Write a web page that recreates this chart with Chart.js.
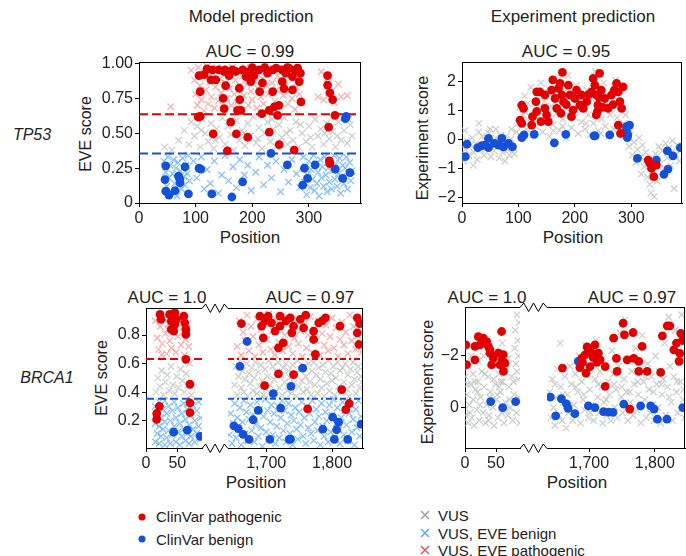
<!DOCTYPE html>
<html>
<head>
<meta charset="utf-8">
<script src="https://cdn.jsdelivr.net/npm/chart.js@4.4.1/dist/chart.umd.min.js"></script>
<style>
  body { margin: 0; background: #fff; }
  #fig { position: relative; width: 686px; height: 556px; overflow: hidden; font-family: 'Liberation Sans', Arial, sans-serif; color: #222; }
  .t { position: absolute; transform: translate(-50%, -50%); white-space: nowrap; font-size: 17px; }
  .yt { position: absolute; transform: translate(-50%, -50%) rotate(-90deg); white-space: nowrap; font-size: 16px; }
  .gene { position: absolute; transform: translate(-50%, -50%); font-style: italic; font-size: 16px; }
  .lg { position: absolute; transform: translateY(-50%); white-space: nowrap; font-size: 15px; }
  .dot { position: absolute; width: 7px; height: 7px; border-radius: 50%; transform: translate(-50%, -50%); }
  .x { position: absolute; transform: translate(-50%, -50%); }
</style>
</head>
<body>
<div id="fig">
  <div class="t" style="left:251px;top:17px">Model prediction</div>
  <div class="t" style="left:573px;top:17px">Experiment prediction</div>

  <div class="t" style="left:250px;top:52px">AUC = 0.99</div>
  <div class="t" style="left:566px;top:52px">AUC = 0.95</div>
  <div class="gene" style="left:32px;top:135px">TP53</div>
  <div class="yt" style="left:86px;top:134px">EVE score</div>
  <div class="yt" style="left:423px;top:138px">Experiment score</div>
  <div class="t" style="left:250px;top:238px">Position</div>
  <div class="t" style="left:573px;top:238px">Position</div>

  <div class="t" style="left:167px;top:298px">AUC = 1.0</div>
  <div class="t" style="left:310px;top:298px">AUC = 0.97</div>
  <div class="t" style="left:487px;top:298px">AUC = 1.0</div>
  <div class="t" style="left:632px;top:298px">AUC = 0.97</div>
  <div class="gene" style="left:47px;top:378px">BRCA1</div>
  <div class="yt" style="left:102px;top:378px">EVE score</div>
  <div class="yt" style="left:428px;top:382px">Experiment score</div>
  <div class="t" style="left:256px;top:483px">Position</div>
  <div class="t" style="left:577px;top:483px">Position</div>

  <span class="dot" style="left:142px;top:517px;background:#e00000"></span>
  <div class="lg" style="left:156px;top:516px">ClinVar pathogenic</div>
  <span class="dot" style="left:142px;top:539px;background:#1550d8"></span>
  <div class="lg" style="left:156px;top:539px">ClinVar benign</div>
  <svg class="x" style="left:425px;top:515px" width="10" height="10"><path d="M1 1L9 9M9 1L1 9" stroke="#a0a0a0" stroke-width="1.6"/></svg>
  <div class="lg" style="left:438px;top:515px">VUS</div>
  <svg class="x" style="left:425px;top:533px" width="10" height="10"><path d="M1 1L9 9M9 1L1 9" stroke="#5aaaf0" stroke-width="1.6"/></svg>
  <div class="lg" style="left:438px;top:533px">VUS, EVE benign</div>
  <svg class="x" style="left:425px;top:550px" width="10" height="10"><path d="M1 1L9 9M9 1L1 9" stroke="#d06464" stroke-width="1.6"/></svg>
  <div class="lg" style="left:438px;top:550px">VUS, EVE pathogenic</div>
</div>

<script>
// ---- tick values / labels ----
const tp53XTicks = [0, 100, 200, 300];
const tp53XLabels = ['0', '100', '200', '300'];
const tp53EveYTicks = [0, 0.25, 0.5, 0.75, 1];
const tp53EveYLabels = ['0', '0.25', '0.50', '0.75', '1.00'];
const tp53ExpYTicks = [-2, -1, 0, 1, 2];
const tp53ExpYLabels = ['\u22122', '\u22121', '0', '1', '2'];
const brca1XTicksN = [0, 50];
const brca1XLabelsN = ['0', '50'];
const brca1XTicksC = [1700, 1800];
const brca1XLabelsC = ['1,700', '1,800'];
const brca1EveYTicks = [0.2, 0.4, 0.6, 0.8];
const brca1EveYLabels = ['0.2', '0.4', '0.6', '0.8'];
const brca1ExpYTicks = [-2, 0];
const brca1ExpYLabels = ['\u22122', '0'];

// EVE class cut-offs [benign, pathogenic]
const tp53EveCutoffs = [0.355, 0.636];
const brca1EveCutoffs = [0.353, 0.632];

// ---- TP53, EVE score ----
const tp53EvePathogenic = [[106,0.913],[108,0.797],[104.5,0.616],[129.7,0.954],[135.6,0.882],[127,0.882],[150,0.942],[148.6,0.749],[150.4,0.676],[152,0.954],[165,0.954],[171,0.942],[177,0.822],[178,0.741],[174,0.664],[180,0.664],[162,0.579],[131,0.495],[172,0.495],[192,0.471],[156,0.374],[183,0.954],[195,0.942],[197.5,0.870],[212,0.954],[213,0.797],[217,0.640],[236,0.954],[236,0.797],[230,0.664],[239,0.688],[247,0.700],[244.7,0.628],[230,0.507],[247.6,0.418],[274,0.379],[253,0.954],[265,0.966],[277,0.954],[283,0.870],[286,0.725],[271,0.906],[253,0.870],[333,0.913],[333,0.845],[337,0.789],[342,0.741],[346,0.628],[335,0.543],[336,0.302],[337,0.283],[141,0.954],[159,0.913],[189,0.906],[203,0.913],[227,0.93],[242,0.966],[259,0.93],[280,0.966],[153,0.84],[218,0.86],[256,0.82],[271,0.81],[120,0.96],[115,0.92],[200,0.97],[222,0.97],[262,0.97],[285,0.93],[108,0.62]];
const tp53EveBenign = [[47.2,0.266],[46,0.168],[47.2,0.085],[53,0.056],[63.7,0.089],[69.6,0.193],[72.5,0.145],[81.4,0.258],[87.3,0.065],[106,0.249],[109,0.242],[128.5,0.065],[164,0.043],[183,0.152],[233,0.355],[262,0.273],[292,0.249],[297.6,0.176],[289,0.128],[311,0.273],[346.6,0.242],[359.6,0.176],[372.5,0.217],[364.2,0.604],[366,0.62],[72,0.17]];
const tp53EveVus = [[45,0.40],[58,0.38],[70,0.45],[80,0.52],[88,0.42],[92,0.58],[98,0.48],[103,0.55],[108,0.40],[112,0.60],[117,0.50],[122,0.44],[127,0.57],[132,0.39],[137,0.53],[142,0.47],[147,0.61],[152,0.42],[157,0.55],[162,0.49],[167,0.38],[172,0.59],[177,0.45],[182,0.52],[187,0.41],[192,0.57],[197,0.48],[202,0.62],[207,0.43],[212,0.54],[217,0.39],[222,0.50],[227,0.58],[232,0.44],[237,0.53],[242,0.40],[247,0.56],[252,0.47],[257,0.61],[262,0.42],[267,0.52],[272,0.45],[277,0.58],[282,0.40],[288,0.50],[295,0.44],[300,0.55],[306,0.40],[311,0.60],[316,0.48],[321,0.53],[326,0.42],[331,0.57],[336,0.46],[342,0.51],[347,0.40],[352,0.58],[357,0.45],[362,0.52],[368,0.43],[373,0.56],[376,0.48],[110,0.52],[135,0.45],[160,0.58],[185,0.50],[210,0.46],[235,0.60],[260,0.50],[285,0.56],[303,0.47],[328,0.50],[350,0.48],[370,0.60]];
const tp53EveVusBenign = [[44,0.30],[47,0.22],[49,0.12],[51,0.33],[53,0.18],[55,0.27],[57,0.08],[59,0.21],[61,0.31],[63,0.14],[65,0.25],[67,0.05],[69,0.29],[71,0.17],[73,0.23],[75,0.10],[77,0.32],[79,0.19],[81,0.13],[83,0.27],[85,0.21],[87,0.34],[89,0.16],[96,0.30],[102,0.18],[110,0.33],[115,0.10],[120,0.24],[126,0.14],[133,0.30],[140,0.07],[146,0.20],[152,0.34],[158,0.16],[166,0.26],[172,0.11],[178,0.31],[186,0.20],[192,0.27],[198,0.09],[206,0.22],[212,0.33],[220,0.13],[227,0.27],[234,0.18],[242,0.30],[250,0.08],[256,0.24],[264,0.15],[270,0.31],[278,0.21],[284,0.11],[290,0.33],[292,0.15],[294,0.26],[296,0.06],[298,0.20],[300,0.30],[302,0.11],[304,0.24],[306,0.17],[308,0.34],[310,0.09],[312,0.28],[314,0.14],[316,0.22],[318,0.05],[320,0.31],[322,0.18],[324,0.26],[326,0.12],[328,0.33],[330,0.20],[332,0.08],[334,0.25],[336,0.15],[338,0.30],[340,0.10],[342,0.23],[344,0.34],[346,0.17],[348,0.28],[350,0.12],[352,0.21],[354,0.32],[356,0.07],[358,0.19],[360,0.27],[362,0.14],[364,0.25],[366,0.33],[368,0.10],[370,0.21],[372,0.29],[374,0.16],[376,0.23]];
const tp53EveVusPathogenic = [[92,0.95],[98,0.88],[100,0.78],[103,0.70],[105,0.97],[108,0.84],[110,0.74],[113,0.92],[115,0.66],[118,0.81],[120,0.98],[122,0.71],[125,0.87],[128,0.76],[130,0.93],[133,0.68],[135,0.83],[138,0.97],[140,0.73],[143,0.89],[145,0.79],[148,0.95],[150,0.67],[153,0.86],[155,0.75],[158,0.92],[160,0.82],[163,0.70],[165,0.97],[168,0.78],[170,0.88],[173,0.72],[175,0.94],[178,0.84],[180,0.66],[183,0.91],[185,0.77],[188,0.97],[190,0.85],[193,0.70],[195,0.93],[198,0.80],[200,0.74],[203,0.96],[205,0.87],[208,0.68],[210,0.82],[213,0.94],[215,0.76],[218,0.89],[220,0.71],[223,0.98],[225,0.84],[228,0.78],[230,0.92],[233,0.67],[235,0.86],[238,0.96],[240,0.73],[243,0.81],[245,0.91],[248,0.69],[250,0.87],[253,0.97],[255,0.77],[258,0.84],[260,0.93],[263,0.71],[265,0.80],[268,0.95],[270,0.75],[273,0.89],[275,0.67],[278,0.83],[280,0.97],[283,0.78],[285,0.90],[288,0.72],[56,0.69],[316,0.76],[322,0.94],[326,0.74],[333,0.86],[340,0.80],[345,0.72],[357,0.76],[368,0.77],[352,0.85]];

// ---- TP53, experiment score ----
const tp53ExpPathogenic = [[106,1.18],[109,1.07],[103,0.66],[106,0.55],[123.6,0.49],[125,0.78],[132.5,0.96],[131,1.30],[132.5,1.64],[138,1.64],[140,0.61],[147,1.53],[147,1.07],[150,0.84],[153,0.61],[159,1.70],[161,2.05],[165,1.41],[168,1.07],[174,1.93],[178,2.31],[177,1.53],[175.5,0.90],[180,1.30],[188.5,1.87],[191,1.53],[194,0.78],[197,1.01],[203,1.70],[212,1.53],[215,1.07],[221,1.30],[230,1.64],[232.5,2.10],[235.5,1.87],[238,1.53],[241,1.18],[238,0.84],[244,2.28],[247,1.70],[253,1.41],[259,1.07],[265,1.53],[274,1.93],[277,1.64],[280,1.30],[285.6,1.81],[283,1.07],[277,0.49],[281,0.20],[333,-0.83],[336,-1.00],[340,-1.29],[344.5,-0.89],[330,-0.72],[171,1.76],[200,1.41],[209,1.18],[243,1.45],[250,1.10],[268,1.20],[185,1.20],[225,1.55],[240,0.95],[270,1.70]];
const tp53ExpBenign = [[8.8,-0.17],[5.8,-0.60],[28,-0.29],[35,-0.22],[47,0.03],[47,-0.29],[57.6,-0.14],[70.6,0.03],[73.6,-0.26],[82.5,-0.14],[89.5,-0.26],[106,0.06],[110,0.15],[128,0.17],[163.7,-0.12],[184,0.17],[234,0.12],[262,0.15],[291.5,0.32],[297,0.49],[294,0.15],[293,0.06],[311,-0.66],[344.5,-0.72],[364,-0.40],[374,-0.57],[365,-1.03],[358,-1.21],[387,-0.29],[291.5,0.44],[236,0.12],[41,-0.2],[65,-0.2]];
const tp53ExpVus = [[3,-0.75],[6,-0.35],[9,-0.05],[12,-0.55],[15,-0.20],[18,0.05],[21,-0.45],[24,-0.15],[27,-0.70],[30,0.25],[33,-0.35],[36,0.10],[39,-0.55],[42,-0.05],[45,-0.30],[48,0.20],[51,-0.60],[54,-0.10],[57,-0.40],[60,0.05],[63,-0.25],[66,-0.65],[69,0.15],[72,-0.45],[75,-0.15],[78,0.10],[81,-0.35],[84,-0.55],[87,0.00],[90,-0.25],[93,-0.50],[5,0.3],[30,0.55],[60,0.35],[88,0.35],[97,0.25],[100,0.55],[103,1.10],[105,0.05],[108,0.85],[111,1.50],[114,0.35],[117,1.25],[120,0.60],[122,1.80],[125,0.15],[128,1.05],[131,0.45],[134,1.60],[137,0.80],[140,1.95],[143,0.25],[146,1.30],[149,0.65],[152,1.75],[155,0.10],[158,1.15],[161,0.50],[164,1.45],[167,0.90],[170,2.05],[173,0.30],[176,1.20],[179,0.70],[182,1.65],[185,0.05],[188,2.20],[191,0.95],[194,0.40],[197,1.55],[200,0.75],[203,1.85],[206,0.20],[209,1.35],[212,0.60],[215,1.10],[218,0.35],[221,1.70],[224,0.85],[227,0.15],[230,1.40],[233,0.55],[236,2.35],[239,0.95],[242,0.30],[245,1.60],[248,0.70],[251,1.95],[254,0.45],[257,1.25],[260,0.10],[263,0.85],[266,1.50],[269,0.35],[272,2.05],[275,0.75],[278,1.30],[281,0.20],[284,1.05],[287,0.55],[290,0.85],[293,0.15],[296,-0.25],[299,0.30],[302,-0.55],[305,-0.10],[308,-0.80],[311,-0.35],[314,0.05],[317,-0.60],[320,-0.20],[323,-0.95],[326,-0.45],[329,-1.30],[332,-0.70],[335,-1.85],[338,-1.10],[341,-1.98],[343,-0.50],[346,-1.45],[349,-0.25],[352,-0.85],[355,-0.40],[358,-1.10],[361,-0.15],[364,-0.65],[367,-0.30],[370,-0.90],[373,-0.05],[376,-1.70],[379,-0.55],[382,-0.20],[385,-0.75],[388,-0.35],[333,-1.55],[112,0.95],[138,1.10],[162,0.30],[178,0.45],[205,1.05],[220,0.55],[246,0.20],[262,1.20],[286,0.35],[20,-0.9],[50,0.35],[76,-0.75],[318,-1.2],[372,-0.45]];

// ---- BRCA1, EVE score (N-terminal 0-89 and C-terminal 1642-1847) ----
const brca1EvePathogenic = [[22.5,0.945],[24,0.91],[37.7,0.945],[43,0.933],[46,0.957],[40.4,0.898],[46,0.875],[40.4,0.84],[44.3,0.828],[48.6,0.91],[60.5,0.933],[62,0.886],[63.8,0.84],[63.8,0.805],[63.8,0.63],[70.3,0.455],[70.3,0.325],[70.3,0.256],[21.4,0.30],[17.1,0.25],[17.1,0.209],[1662.4,0.881],[1690.4,0.933],[1693,0.863],[1695.6,0.781],[1703,0.933],[1708,0.886],[1713.5,0.828],[1721,0.933],[1721,0.863],[1726,0.746],[1718.6,0.711],[1736.5,0.921],[1741.6,0.863],[1739,0.816],[1751.8,0.91],[1756.8,0.851],[1772,0.828],[1772,0.769],[1774.7,0.664],[1779.8,0.886],[1790,0.921],[1812,0.863],[1838.3,0.921],[1838.3,0.816],[1840.8,0.734],[1842,0.88],[1718.6,0.528],[1741.6,0.523],[1697.6,0.446],[1763,0.282],[1814.7,0.418],[1820.8,0.277],[1826,0.32],[1698,0.90],[1730,0.90],[1760,0.94],[1785,0.90]];
const brca1EveBenign = [[44.2,0.119],[66,0.133],[86.6,0.09],[1671,0.755],[1660,0.58],[1755.4,0.568],[1737.6,0.44],[1710.7,0.389],[1687.9,0.272],[1680.3,0.206],[1722,0.288],[1651,0.163],[1657.6,0.144],[1665,0.103],[1674,0.068],[1705.6,0.068],[1735,0.068],[1737,0.07],[1786,0.14],[1801,0.224],[1810,0.189],[1807,0.136],[1803.5,0.068],[1823.8,0.068],[1844,0.175]];
const brca1EveVus = [[16,0.40],[19,0.50],[22,0.44],[25,0.55],[28,0.38],[31,0.47],[34,0.52],[37,0.41],[40,0.58],[43,0.45],[46,0.39],[49,0.51],[52,0.43],[55,0.56],[58,0.48],[61,0.40],[64,0.53],[67,0.45],[70,0.60],[72,0.38],[1652,0.45],[1654,0.58],[1656,0.38],[1658,0.51],[1660,0.62],[1662,0.43],[1664,0.55],[1666,0.40],[1668,0.49],[1670,0.60],[1672,0.37],[1674,0.53],[1676,0.46],[1678,0.57],[1680,0.41],[1682,0.50],[1684,0.61],[1686,0.39],[1688,0.54],[1690,0.44],[1692,0.59],[1694,0.48],[1696,0.38],[1698,0.56],[1700,0.42],[1702,0.51],[1704,0.62],[1706,0.45],[1708,0.37],[1710,0.58],[1712,0.49],[1714,0.40],[1716,0.54],[1718,0.61],[1720,0.43],[1722,0.52],[1724,0.38],[1726,0.57],[1728,0.47],[1730,0.60],[1732,0.41],[1734,0.55],[1736,0.50],[1738,0.39],[1740,0.59],[1742,0.46],[1744,0.53],[1746,0.37],[1748,0.62],[1750,0.44],[1752,0.56],[1754,0.48],[1756,0.40],[1758,0.58],[1760,0.51],[1762,0.42],[1764,0.60],[1766,0.47],[1768,0.38],[1770,0.55],[1772,0.61],[1774,0.45],[1776,0.52],[1778,0.39],[1780,0.57],[1782,0.49],[1784,0.43],[1786,0.59],[1788,0.37],[1790,0.54],[1792,0.46],[1794,0.62],[1796,0.41],[1798,0.53],[1800,0.48],[1802,0.58],[1804,0.38],[1806,0.50],[1808,0.61],[1810,0.44],[1812,0.55],[1814,0.40],[1816,0.57],[1818,0.47],[1820,0.60],[1822,0.42],[1824,0.52],[1826,0.37],[1828,0.56],[1830,0.45],[1832,0.61],[1834,0.49],[1836,0.39],[1838,0.54],[1840,0.58],[1842,0.43],[1844,0.51],[1845,0.47]];
const brca1EveVusBenign = [[15,0.05],[15,0.18],[15,0.30],[18,0.11],[18,0.25],[21,0.04],[21,0.16],[21,0.33],[24,0.09],[24,0.22],[27,0.14],[27,0.28],[30,0.03],[30,0.19],[30,0.34],[33,0.08],[33,0.25],[36,0.13],[36,0.30],[39,0.04],[39,0.20],[42,0.10],[42,0.27],[45,0.16],[45,0.33],[48,0.05],[48,0.22],[51,0.12],[51,0.29],[54,0.03],[54,0.18],[57,0.09],[57,0.25],[60,0.14],[60,0.32],[63,0.06],[63,0.21],[66,0.11],[66,0.28],[69,0.04],[69,0.17],[72,0.09],[72,0.24],[75,0.14],[75,0.31],[78,0.05],[78,0.20],[81,0.11],[81,0.27],[84,0.16],[84,0.33],[87,0.07],[87,0.22],[1644,0.10],[1646,0.25],[1648,0.04],[1650,0.18],[1652,0.32],[1654,0.08],[1656,0.22],[1658,0.14],[1660,0.29],[1662,0.03],[1664,0.19],[1666,0.34],[1668,0.11],[1670,0.26],[1672,0.06],[1674,0.21],[1676,0.31],[1678,0.13],[1680,0.24],[1682,0.05],[1684,0.17],[1686,0.33],[1688,0.09],[1690,0.28],[1692,0.15],[1694,0.02],[1696,0.23],[1698,0.35],[1700,0.12],[1702,0.27],[1704,0.07],[1706,0.19],[1708,0.31],[1710,0.10],[1712,0.25],[1714,0.04],[1716,0.16],[1718,0.30],[1720,0.08],[1722,0.22],[1724,0.34],[1726,0.13],[1728,0.27],[1730,0.05],[1732,0.18],[1734,0.32],[1736,0.11],[1738,0.24],[1740,0.03],[1742,0.20],[1744,0.29],[1746,0.14],[1748,0.07],[1750,0.26],[1752,0.17],[1754,0.33],[1756,0.09],[1758,0.22],[1760,0.04],[1762,0.30],[1764,0.15],[1766,0.25],[1768,0.11],[1770,0.34],[1772,0.06],[1774,0.19],[1776,0.28],[1778,0.13],[1780,0.23],[1782,0.03],[1784,0.32],[1786,0.16],[1788,0.09],[1790,0.26],[1792,0.20],[1794,0.05],[1796,0.31],[1798,0.12],[1800,0.24],[1802,0.35],[1804,0.08],[1806,0.18],[1808,0.29],[1810,0.14],[1812,0.04],[1814,0.22],[1816,0.33],[1818,0.10],[1820,0.27],[1822,0.17],[1824,0.06],[1826,0.25],[1828,0.31],[1830,0.12],[1832,0.21],[1834,0.03],[1836,0.28],[1838,0.15],[1840,0.34],[1842,0.09],[1844,0.23]];
const brca1EveVusPathogenic = [[15,0.90],[18,0.78],[20,0.70],[23,0.86],[26,0.74],[28,0.92],[31,0.81],[33,0.67],[36,0.88],[38,0.76],[41,0.71],[43,0.94],[46,0.83],[48,0.68],[51,0.79],[53,0.90],[56,0.73],[58,0.85],[61,0.66],[63,0.77],[66,0.88],[68,0.72],[35,0.84],[50,0.93],[25,0.66],[1656,0.72],[1659,0.90],[1662,0.66],[1665,0.82],[1668,0.76],[1671,0.94],[1674,0.69],[1677,0.86],[1680,0.79],[1683,0.65],[1686,0.91],[1689,0.73],[1692,0.84],[1695,0.68],[1698,0.88],[1701,0.77],[1704,0.95],[1707,0.70],[1710,0.83],[1713,0.66],[1716,0.90],[1719,0.75],[1722,0.86],[1725,0.69],[1728,0.80],[1731,0.93],[1734,0.72],[1737,0.85],[1740,0.67],[1743,0.78],[1746,0.91],[1749,0.74],[1752,0.83],[1755,0.65],[1758,0.88],[1761,0.71],[1764,0.80],[1767,0.93],[1770,0.68],[1773,0.84],[1776,0.76],[1779,0.90],[1782,0.66],[1785,0.81],[1788,0.73],[1791,0.87],[1794,0.69],[1797,0.79],[1800,0.92],[1803,0.71],[1806,0.85],[1809,0.65],[1812,0.77],[1815,0.89],[1818,0.73],[1821,0.82],[1824,0.67],[1827,0.94],[1830,0.76],[1833,0.86],[1836,0.70],[1839,0.80],[1842,0.90],[1845,0.68]];

// ---- BRCA1, experiment score ----
const brca1ExpPathogenic = [[1.5,-2.43],[2.7,-1.66],[16,-2.37],[21.5,-2.75],[16,-1.85],[35,-2.56],[37.6,-2.37],[40.3,-2.11],[43,-1.66],[45.7,-1.92],[59,-2.95],[53.8,-2.11],[61.8,-2.05],[56.4,-1.66],[62,-1.40],[64.5,-1.72],[29.6,-2.69],[24.2,-2.43],[60,-1.85],[40,-2.25],[1659.5,-1.53],[1688.7,-1.91],[1693.8,-2.04],[1699,-2.24],[1704,-2.11],[1709,-2.43],[1714.2,-2.11],[1695.4,-1.33],[1701.5,-1.59],[1717,-1.85],[1724.6,-1.59],[1724.6,-0.82],[1737.4,-2.69],[1751.8,-3.27],[1753.8,-2.82],[1767,-2.91],[1741.6,-1.91],[1742.6,-1.40],[1758,-1.85],[1768,-1.91],[1775.6,-1.79],[1780.8,-2.37],[1775.6,-1.40],[1788.5,-1.40],[1809,-1.36],[1811.6,-2.78],[1819,-3.17],[1823,-3.17],[1829,-2.24],[1833,-2.50],[1839.5,-2.88],[1837,-1.79],[1762,0.06],[1690,-1.75],[1706,-1.95],[1712,-1.75],[1697,-2.35],[1686,-1.55],[1838,-2.1],[1842,-2.6]];
const brca1ExpBenign = [[41.4,-0.23],[60.8,0.0],[81.7,-0.23],[1641,-0.40],[1649.2,0.32],[1657.9,-0.34],[1665.6,-0.14],[1668,0.03],[1678.4,0.24],[1683.6,-1.79],[1699,-0.06],[1709,0],[1722,0.16],[1729.7,0.18],[1736.4,0.19],[1752.8,-0.13],[1778.5,-0.06],[1793.8,-0.06],[1799,0.06],[1804,0.45],[1818.5,0.45],[1842.6,0]];
const brca1ExpVus = [[1,-1.2],[1,0.3],[3,-0.5],[5,0.6],[5,-1.6],[7,-0.1],[9,-0.9],[11,0.4],[13,-1.3],[13,-0.3],[15,0.7],[17,-0.7],[19,0.1],[21,-1.8],[21,-1.0],[23,0.5],[25,-0.4],[27,-1.4],[29,0.2],[31,-0.8],[33,0.6],[35,-0.1],[37,-1.2],[39,0.3],[41,-0.6],[43,-1.6],[45,0.0],[47,0.7],[49,-0.9],[51,-0.3],[53,0.4],[55,-1.3],[57,-0.6],[59,0.2],[61,-1.0],[63,0.6],[65,-0.2],[67,-1.5],[69,0.3],[71,-0.8],[73,0.0],[75,-1.2],[77,0.5],[79,-0.5],[80,-2.3],[81,-3.0],[82,-1.7],[83,0.2],[84,-3.6],[85,-2.6],[86,-1.1],[87,-0.4],[87,-3.3],[88,0.6],[10,-2.0],[30,-2.0],[50,-2.2],[60,-2.5],[40,-0.4],[20,-0.6],[55,-0.8],[70,-1.9],[4,-0.9],[8,0.2],[16,-1.0],[24,-0.1],[32,-1.3],[38,0.5],[46,-1.1],[52,-0.5],[58,-1.0],[66,0.1],[72,-0.3],[78,-1.0],[84,-1.4],[86,-2.0],[1640,-0.6],[1642,0.4],[1644,-1.1],[1646,0.0],[1648,0.7],[1650,-0.4],[1652,-1.5],[1654,0.3],[1656,-2.5],[1657,-0.8],[1659,0.5],[1661,-0.2],[1663,-1.2],[1665,0.8],[1667,-0.5],[1669,0.2],[1671,-1.6],[1673,-0.9],[1675,0.5],[1677,-0.1],[1679,-1.3],[1681,0.3],[1683,-0.6],[1685,-2.0],[1687,0.6],[1689,-1.0],[1691,-0.3],[1693,0.1],[1695,-2.4],[1697,-1.4],[1699,0.4],[1701,-0.7],[1703,-0.1],[1705,-1.8],[1707,0.5],[1709,-1.1],[1711,-2.6],[1713,-0.4],[1715,0.2],[1717,-1.4],[1719,-0.8],[1721,0.6],[1723,-0.2],[1725,-1.7],[1727,0.3],[1729,-1.0],[1731,-0.5],[1733,0.5],[1735,-2.2],[1737,-1.3],[1739,0.0],[1741,-0.7],[1743,0.4],[1745,-1.6],[1747,-2.9],[1749,-0.4],[1751,0.2],[1753,-1.1],[1755,-3.4],[1757,-0.6],[1759,0.5],[1761,-1.9],[1763,-0.2],[1765,-1.4],[1767,0.3],[1769,-0.9],[1771,-2.3],[1773,0.1],[1775,-0.5],[1777,-1.5],[1779,0.6],[1781,-2.8],[1783,-1.0],[1785,-0.3],[1787,0.4],[1789,-1.7],[1791,-0.7],[1793,0.2],[1795,-1.2],[1797,-0.1],[1799,0.5],[1801,-2.0],[1803,-0.9],[1805,0.0],[1807,-1.4],[1809,0.6],[1811,-0.5],[1813,-1.1],[1815,-2.5],[1817,0.3],[1819,-0.8],[1821,-3.5],[1823,-1.6],[1825,-0.2],[1827,0.5],[1829,-1.2],[1831,-3.0],[1833,-0.6],[1835,0.2],[1837,-2.2],[1839,-1.0],[1841,-3.6],[1843,-0.3],[1845,0.4],[1845,-1.8],[1648,-0.9],[1660,-0.5],[1670,0.0],[1680,-0.8],[1692,-0.5],[1702,0.2],[1714,-0.9],[1726,-0.3],[1738,-0.9],[1750,-0.8],[1762,-0.6],[1774,-1.0],[1786,-1.2],[1798,-0.6],[1810,-0.9],[1822,-0.4],[1834,-1.0],[1844,-0.7]];

// ---- colours ----
const RED = '#e00000', BLUE = '#1550d8';
const GREY_X = 'rgba(188,193,188,0.75)', BLUE_X = 'rgba(110,178,242,0.8)', PINK_X = 'rgba(238,125,125,0.6)';

Chart.defaults.font.family = "'Liberation Sans', Arial, sans-serif";
Chart.defaults.font.size = 16;
Chart.defaults.color = '#222';

// box around the plot, plus the zig-zag axis break
const framePlugin = {
  id: 'frame',
  afterDatasetsDraw(chart, args, o) {
    const ctx = chart.ctx, a = chart.chartArea;
    ctx.save();
    ctx.strokeStyle = '#000';
    ctx.lineWidth = 1;
    ctx.beginPath();
    ctx.moveTo(a.left, a.top + 0.5);
    ctx.lineTo(a.right, a.top + 0.5);
    if (o.side !== 'left') {
      ctx.moveTo(a.right - 0.5, a.top);
      ctx.lineTo(a.right - 0.5, a.bottom);
    }
    if (o.gap) {
      [a.top + 0.5, a.bottom + 0.5].forEach(y => {
        const x0 = a.left - o.gap, w = o.gap;
        const zz = [[0, 0], [0.14, -4.5], [0.32, 4], [0.5, -4.5], [0.68, 4], [0.86, -4.5], [1, 0]];
        ctx.moveTo(x0, y);
        zz.forEach(p => ctx.lineTo(x0 + p[0] * w, y + p[1]));
      });
    }
    ctx.stroke();
    ctx.restore();
  }
};

function pts(a) { return a.map(p => ({ x: p[0], y: p[1] })); }
function inX(a, r) { return a.filter(p => p[0] >= r[0] && p[0] <= r[1]); }

function addPanel(c) {
  const showY = !!c.yTicks;
  const padL = showY ? 52 : 34, padR = 26, padT = 8, padB = 28;
  const w = c.area[2] - c.area[0] + padL + padR;
  const h = c.area[3] - c.area[1] + padT + padB;
  const cv = document.createElement('canvas');
  cv.width = w; cv.height = h;
  cv.style.cssText = 'position:absolute;left:' + (c.area[0] - padL) + 'px;top:' + (c.area[1] - padT) + 'px;width:' + w + 'px;height:' + h + 'px';
  document.getElementById('fig').appendChild(cv);

  const ds = [];
  ds.push({ data: pts(inX(c.pathogenic, c.x)), backgroundColor: RED, borderWidth: 0, pointRadius: 4.4 });
  ds.push({ data: pts(inX(c.benign, c.x)), backgroundColor: BLUE, borderWidth: 0, pointRadius: 4.4 });
  if (c.cutoffs) {
    ds.push({ type: 'line', data: [{ x: c.x[0], y: c.cutoffs[1] }, { x: c.x[1], y: c.cutoffs[1] }], borderColor: RED, borderWidth: 2, borderDash: c.dash, pointRadius: 0 });
    ds.push({ type: 'line', data: [{ x: c.x[0], y: c.cutoffs[0] }, { x: c.x[1], y: c.cutoffs[0] }], borderColor: BLUE, borderWidth: 2, borderDash: c.dash, pointRadius: 0 });
  }
  c.crosses.forEach(cr => {
    ds.push({ data: pts(inX(cr[0], c.x)), pointStyle: 'crossRot', borderColor: cr[1], borderWidth: 1.3, pointRadius: 4.6 });
  });

  new Chart(cv, {
    type: 'scatter',
    data: { datasets: ds },
    plugins: [framePlugin],
    options: {
      responsive: false,
      animation: false,
      events: [],
      layout: { autoPadding: false, padding: { left: showY ? 2 : padL, right: padR, top: padT, bottom: 2 } },
      plugins: { legend: { display: false }, tooltip: { enabled: false }, frame: { side: c.side, gap: c.gap } },
      scales: {
        x: {
          type: 'linear', min: c.x[0], max: c.x[1],
          afterBuildTicks: s => { s.ticks = c.xTicks.map(v => ({ value: v })); },
          afterFit: s => { s.height = padB - 2; s.paddingLeft = 0; s.paddingRight = 0; },
          ticks: { padding: 2, maxRotation: 0, autoSkip: false, color: '#222', callback: v => c.xLabels[c.xTicks.indexOf(v)] },
          grid: { drawOnChartArea: false, tickLength: 4, color: '#000' },
          border: { color: '#000', width: 1 }
        },
        y: {
          type: 'linear', display: showY, min: c.y[0], max: c.y[1], reverse: !!c.reverse,
          afterBuildTicks: s => { if (c.yTicks) s.ticks = c.yTicks.map(v => ({ value: v })); },
          afterFit: s => { if (showY) s.width = padL - 2; s.paddingTop = 0; s.paddingBottom = 0; },
          ticks: { padding: 2, color: '#222', callback: v => c.yLabels ? c.yLabels[c.yTicks.indexOf(v)] : '' },
          grid: { drawOnChartArea: false, tickLength: 4, color: '#000' },
          border: { color: '#000', width: 1 }
        }
      }
    }
  });
}

const eveCrossesTp53 = [[tp53EveVus, GREY_X], [tp53EveVusBenign, BLUE_X], [tp53EveVusPathogenic, PINK_X]];
const eveCrossesBrca1 = [[brca1EveVus, GREY_X], [brca1EveVusBenign, BLUE_X], [brca1EveVusPathogenic, PINK_X]];

// TP53 – model
addPanel({ area: [139, 62, 361, 203], x: [0, 392], y: [0, 1.01], xTicks: tp53XTicks, xLabels: tp53XLabels,
  yTicks: tp53EveYTicks, yLabels: tp53EveYLabels, side: 'full', pathogenic: tp53EvePathogenic, benign: tp53EveBenign,
  cutoffs: tp53EveCutoffs, dash: [9, 4], crosses: eveCrossesTp53 });
// TP53 – experiment
addPanel({ area: [462, 62, 682, 203], x: [0, 390], y: [-2.2, 2.67], xTicks: tp53XTicks, xLabels: tp53XLabels,
  yTicks: tp53ExpYTicks, yLabels: tp53ExpYLabels, side: 'full', pathogenic: tp53ExpPathogenic, benign: tp53ExpBenign,
  crosses: [[tp53ExpVus, GREY_X]] });
// BRCA1 – model, N-terminal and C-terminal parts
addPanel({ area: [146, 308, 202, 448], x: [0, 89.5], y: [0.008, 0.99], xTicks: brca1XTicksN, xLabels: brca1XLabelsN,
  yTicks: brca1EveYTicks, yLabels: brca1EveYLabels, side: 'left', pathogenic: brca1EvePathogenic, benign: brca1EveBenign,
  cutoffs: brca1EveCutoffs, dash: [8, 4], crosses: eveCrossesBrca1 });
addPanel({ area: [228, 308, 363, 448], x: [1642, 1847], y: [0.008, 0.99], xTicks: brca1XTicksC, xLabels: brca1XLabelsC,
  side: 'right', gap: 26, pathogenic: brca1EvePathogenic, benign: brca1EveBenign,
  cutoffs: brca1EveCutoffs, dash: [6, 3, 2, 3], crosses: eveCrossesBrca1 });
// BRCA1 – experiment
addPanel({ area: [465, 307, 520, 448], x: [0, 88.7], y: [-3.9, 1.57], reverse: true, xTicks: brca1XTicksN, xLabels: brca1XLabelsN,
  yTicks: brca1ExpYTicks, yLabels: brca1ExpYLabels, side: 'left', pathogenic: brca1ExpPathogenic, benign: brca1ExpBenign,
  crosses: [[brca1ExpVus, GREY_X]] });
addPanel({ area: [547, 307, 685, 448], x: [1636, 1846], y: [-3.9, 1.57], reverse: true, xTicks: brca1XTicksC, xLabels: brca1XLabelsC,
  side: 'right', gap: 27, pathogenic: brca1ExpPathogenic, benign: brca1ExpBenign,
  crosses: [[brca1ExpVus, GREY_X]] });
</script>
</body>
</html>
